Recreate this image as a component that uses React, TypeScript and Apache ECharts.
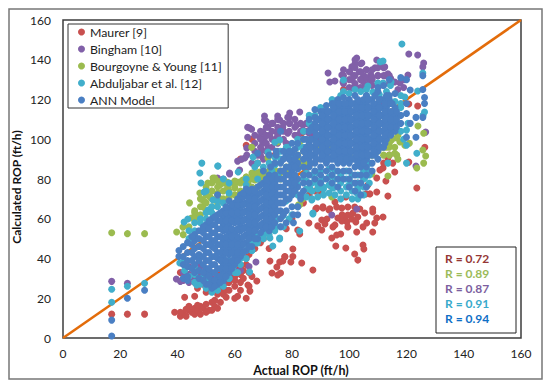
import React, { useEffect, useRef } from "react";
import * as echarts from "echarts";

const FONT = "Lato";
const xTicks = [0, 20, 40, 60, 80, 100, 120, 140, 160];
const seriesNames = ["Maurer [9]", "Bingham [10]", "Bourgoyne & Young [11]", "Abduljabar et al. [12]", "ANN Model"];
const seriesColors = ["#C8504F", "#8160A8", "#9BBB4F", "#41AECB", "#4A7FC3"];
const rLabels = ["R = 0.72", "R = 0.89", "R = 0.87", "R = 0.91", "R = 0.94"];
const rColors = ["#953735", "#9BBB59", "#7D5FA0", "#38AACB", "#0F6FC6"];
const parityLine = [[0, 0], [160, 160]];

const maurer: number[][] = [
  [17,12],[22.5,12],[28.5,12],[39,13],[41,11],[42,12.5],[43,11],[44,14],[45,13],[46,12],[46,15],[47,14],[48,12],[48,16],[49,15],[50,17],[51,14],[52,18],[53,16],[54,15],[55,18],[52,14],[50,13],[47,16.5],[44,16],[43,14.5],[41,13],
  [42.5,20.5],[50,23],[51,25],[53,26],[55,24],[56,22],[58,28],[60,26],[62,24],[64,20],[61,21],[47,25],[46,21],[47,28],[52,29],[55,29],[58,32],[60,31],[63,34],[65,33],[66,31],[65,26],[62,28],[57,24],[54,22],[53,19],[57,20.5],[60,20],
  [64.6,26.7],[67.7,28.7],[65.3,23.6],[72.3,38.7],[74.7,35.7],[73,32.7],[75,31.7],[77.5,41],[75.7,38.2],[80.3,44.8],[80.3,41],[77.5,40.8],[76.8,38.7],[79.6,38.2],[83.4,37.7],[87.3,34.2],[76,32.7],
  [85.9,57.9],[82,54.3],[82.7,52.3],[88.3,64.9],[90.8,65.4],[92.9,64.4],[95,68.4],[95.6,65.9],[97.4,65.4],[99.5,65.9],[101.9,65.9],[103.7,64.9],[105.4,62.9],[108.2,64.9],[108.2,63.4],[111.8,60.9],[109.6,60.4],[108.9,57.9],[106.1,57.9],[104.8,55.9],[102.6,53.3],[108.2,53.3],[99.5,55.9],[98.4,60.4],[96,60.4],[97.4,58.9],[99.2,58.4],[100.9,59.9],[102.3,58.4],[103,60.9],[101.3,62.9],[99.5,61.9],[97.5,62],[92.2,59.9],[90.4,59.4],[91.5,57.4],[89,56.4],[90.4,54.3],[94.3,55.9],[95,56.9],[93.9,50.3],[95.6,51.8],[97,52.3],[95.3,46.3],[98.8,45.3],[101.9,42.3],[103,39.2],[104.8,46.8],[105.1,44.8],
  [123.6,75.5],[113.5,71.4],[109.6,73.5],[107.2,72.5],[105.8,72.5],[106.5,77],[98.8,70.9],[120.8,88.5],[115.9,83.5],[115.2,88],[113.5,90.6],[111.8,85.5],[112.8,79],[110.7,84.5],[109.6,80.5],[120.8,117.7],[123.9,116.7],[126.4,96],[98,125],[66,100],[74,92],[83.4,103],[85,85.5],[93.9,76],[88.6,65.4],[90.8,66],[93.2,65],[64,97],[62,90],[68,88],[90,73],[86,72],[114,92],[112,88],
  [41,33],[46,28],[62,36],[64,40],[72,45],[70,50],[78,55],[80,60],[84,68],[88,74],
  [49,27],[50,31],[52,24],[54,26],[55,32],[57,28],[58,24],[59,33],[60,29],[61,35],[62,32],[63,30],[64,37],[65,42],[67,45],[69,48],
];

const bingham: number[][] = [
  [17,28.5],[22.5,27.5],[39.6,29.7],[41,28.5],[43,30],[45,31],[47,32],[49,33],[52.4,28],[56,33],[58,31],[60,34],[67.4,38.2],[44,36],[47,37],[55,30],[62,34],[65,36],
  [61,89],[63.5,90.6],[64.2,95.6],[64.5,106],[65.9,105],[70.4,111.7],[70.4,109.7],[75,111.7],[79.2,113.2],[82.7,113.7],[78.5,111],[75.7,109.7],[73.3,108],[71.6,106],[69.8,103.6],[68.7,101],[70.4,100.6],[72.2,102],[74.7,103.6],[76.8,106],[79.2,108],[81.6,107],[83.8,107],[86.2,107],[88.6,105.7],[69.8,98],[71.6,96],[69.4,94.6],[74.7,100.6],[78.5,103],[64.2,92],[62.4,90],[58.2,82.5],[61.7,84.5],[65.2,105.7],[64.5,101],[66,96],[68,92],[72,92],[75,94],[78,98],[82,102],[54,80.5],[58.2,83],[56,80],
  [102.6,140.9],[102,138],[100.9,136.4],[100.2,133.8],[101.5,132],[104.4,138.4],[106,135],[109,136],[111,138],[112.4,136.4],[113.5,133],[114.5,130.5],[109.6,139.9],[103.5,134],[105,132],[107.5,132.5],[110,132],[112.5,132],[92.6,133.3],[93.2,128.8],[95,129.3],[97.4,132.3],[97.8,128.8],[100.9,125.8],[103.5,125.8],[105,128.8],[107.2,128.8],[111.4,127.3],[115.9,128.8],[117.7,128.3],[120.5,132.3],[119,130],[120.8,142.9],[123.9,142.4],[126,138.4],[125.7,136.4],[126.7,103.6],[102.6,64.9],[93.9,61.9],[123.3,86.5],[103,78],[101,130],[104,130],[108,130],[98,135],[117,125],[119,126],[110,128],
  [86,103],[90,100],[92,106],[112,118],[70,90],[66,88],
];

// First number of each row is the actual ROP, the rest are calculated ROP values.
const binghamBlobs: number[][] = [
  [67,94,98,102],[69,92,96,100,104],[71,94,98,102,106,109],[73,96,100,104,108],[75,98,102,106,110],[77,100,104,108],[79,104,108,111],[81,102,106,110],[83,104,108],[85,104,108],[87,102,106],
  [98,128,132],[100,126,130,134],[102,128,132,136,140],[104,126,130,134,138],[106,127,131,135],[108,127,131,135],[110,128,132,136],[112,128,132,136],[114,128,132],
  [42,29,33],[44,28,32],[46,30,34],[48,28,32,36],[50,26,30,34],[52,26,30],[54,26,29],[56,28,32],[58,30,34],[60,34],
];

const bourgoyne: number[][] = [
  [17,53],[22.5,52.5],[28.5,52.5],[44.2,68],[48.8,69.4],[47.8,73],[50.6,78],[53,80.5],[39.7,53.3],[41.9,55.8],[44.9,60.4],[47,60.9],[54.8,77],[57.2,78.5],[59.5,78],[61.7,78.5],[64,81],[66.5,83],[68.7,83],[74,84.5],[74,81],[76.8,83.5],[78,86],
  [54.1,73],[51.3,71],[57.2,74.5],[60,75.5],[62,73],[64.6,78],[67,79.5],[69.8,78.5],[72.2,79.5],[48.8,66],[49.5,68.5],[52,74],[55,70],[58,71],[44,56],[42,52],[46,63],[50,64],
  [52.4,80.5],[57.5,76],[60.7,78.5],[62.8,79.5],[66.3,82],[68.7,83.5],[65.9,96],[71.6,90.6],[75.7,83],[75.7,80.5],[82.7,98.6],[83.4,88],[90.8,103],[92,102],[93.2,96],[82.3,67],[75,98.6],[78,84],[80,88],[82,90],[70,81],[72,84],
  [116.6,100.6],[114.8,99.6],[117.7,98.6],[115.9,96],[119.4,97],[121,98],[116.6,92],[114,98],[113,96],[117,102],[112,100],[124,106.7],[126,103],[125.7,94.6],[126.7,91.6],[126,88],[123.6,85.5],[104.8,92],[100,92],[89.7,96],[92,97],[113.5,81.5],[107.9,82.5],[93.9,71],[83.7,70],[82.7,67],[115.9,93],[117,90],[108,92],[110,94],[86,92],[96,90],
];

const bourgoyneBand: number[][] = [
  [46,60,64],[48,62,66,70],[50,64,68,72,76],[52,66,70,74,78],[54,68,72,76,79],[56,70,74,78],[58,70,74,78],[60,72,76,79],[62,74,78],[64,74,78,81],[66,76,80,83],[68,76,80,83],[70,78,82],[72,78,82],[74,80,84],[76,80,84],[80,84,86,90],[82,86,92],[84,88,94],[86,88,96],[106,88,92],[112,92,96],[114,92,96],
];

const abduljabar: number[][] = [
  [17,24.5],[22.5,26],[28.5,27.5],[17,18],[48.5,88],[47.8,83],[54.1,86.5],[48.2,78],[49.3,73.5],[52.4,69.4],[42.3,58.4],[43.6,59.9],[50.7,64.4],[50,74],[40.8,37.7],[41.9,38.2],[46.7,26.7],[42.5,34],[44,31],[50,30],[54,27],[58,30],[61,33],
  [72.3,50.3],[75.7,49.8],[73.3,46.3],[65.2,33.2],[64.6,47.8],[67.7,47.8],[59.4,35.7],[58,39],[54,30],[74,55.9],[77,56],[79,60],[75,60],[70,52],[66,44],[62,40],
  [54.1,86.5],[56,80],[61.2,83.5],[71.6,93.6],[75.7,99.6],[74,98.5],[66.4,91],[68,88],[70,86],[73,84],[75,82],[78.5,96],[79,86],[82,72],[82,77],[86.9,69.4],[87.3,62.9],[86.2,75.5],[58,78],[64,80],[67,86],[80,92],[84,96],[90,84],
  [118.4,147.9],[111.8,139.4],[110.8,139],[98,129.8],[106.5,126.8],[114.6,128.8],[108.2,123.8],[110.5,122.5],[113,124],[114.4,127],[111.8,128.3],[110,128.3],[119.4,121.3],[123.9,124.3],[125.7,133.3],[126.3,113.7],[125.8,112],[120,104.6],[120.5,108],[123.6,93],[94.2,117.2],[91.5,114.7],[89,110],[120,88],[102.6,73],[103,76],[94.3,75.5],[87.3,62.4],[82.7,53.8],[75.7,50.3],[76.8,61.4],[86,75],[91,75],[89,77],[93,77],[100,77],[105.4,80.5],[107,82],[113.5,88],[112,112],[116,119],[118,116],[104,124],[100,123],[97,122],[106,122],[120,97],[119,100],[118,104],
  [82,66],[78,69],[80,62],[84,80],[88,84],
];

const abduljabarFringe: number[][] = [
  [46,28,32,36],[48,27,30],[50,25,29],[52,23],[54,24,28],[56,26,30],[58,30],[60,33,37],[62,37,41],[64,40,44],[66,44,48],[68,48,52],[70,50,54],[72,52,56],[74,54,58],[76,56],
  [44,50,54],[46,54,58],[48,58,60],[50,60,63],[52,63,66],[54,66,69],[56,68],[58,73],[64,77],[68,80],[72,88],[74,87,91],[76,90,94],[78,92,96],[80,94],[82,96,100],[84,100,104],[86,108,112],[88,112],[90,116],[94,120],[98,124],[102,125],[106,125],[110,122],[114,118],[118,118,122],
  [85,71,75,79,83],[87,70,74,78,82],[89,71,75,79,83],[91,72,76,80],[93,73,77,81,85],[95,72,76,80,84],[97,70,74,78,82],[99,72,76,80,84],[101,70,74,78,82],[103,70,74,78,82],[105,72,76,80,84],[107,78,84,88],
];

const annLowerCols: number[][] = [
  [17,9],[17,1],[22.5,20],[28.5,24],[40.5,41,44],[42,37,41,46,30],[43.5,29,31,36,39,43,48],[46,33,37,41,45,49,52],[47.5,30,34,39,42,46,50,54],[50,27,32,35,39,43,47,51,55,57],[52,25,29,33,37,41,46,49,53,57,60],[54,27,31,35,40,43,47,51,55,59,62,72],[56,29,33,37,41,45,49,54,57,61,64],[58,33,37,42,45,49,53,57,61,65,69],[60,37,41,45,49,53,58,61,65,68],[62,41,45,49,54,57,61,65,69,72],[64,44,48,52,56,60,64,68,72,75],[66,46,52,56,60,64,68,72,75],[68,50,56,60,64,68,72,76,93],[70,55,58,62,66,70,74,78,84],[72,54,58,62,66,70,74,78,82,92],
  [45,35,39,43,47,51],[49,29,33,37,41,45,49,53,56],[51,27,31,35,39,43,47,51,55,59],[53,26,29,33,37,41,45,49,53,57,61],[55,28,31,35,39,43,47,51,55,59,63],[57,31,35,39,43,47,51,55,59,63,66],[59,35,39,43,47,51,55,59,63,67],[61,39,43,47,51,55,59,63,67,70],[63,43,47,51,55,59,63,67,71,73],[65,46,50,54,58,62,66,70,74],[67,50,54,58,62,66,70,74],[69,53,57,61,65,69,73,77],[71,56,60,64,68,72,76,80],[73,56,60,64,68,72,76,80],
];
const annUpperCols: number[][] = [
  [74,58,62,66,70,74,78,82,88],[76,56,60,64,68,72,76,80,84,88,104],[78,58,64,70,74,78,82,86,92],[80,66,72,76,80,84,88,93,98],[82,62,66,76,80,85,88,92,98],[84,74,78,82,86,90,94,100],[86,78,82,86,90,94,98,104,110],[88,80,84,88,92,96,100,104,108,115,111],[90,78,82,86,90,94,98,102,106,110,114],[92,80,84,88,92,96,100,104,108,112,117],[94,78,82,86,90,94,98,102,106,110,114,118],[96,76,80,84,88,92,96,100,104,108,112,116,120],[98,80,84,88,92,96,100,104,108,112,116,121],[100,76,80,84,88,92,96,100,104,108,112,116,120],[102,74,78,82,86,90,94,98,102,106,110,114,118,122],[104,72,78,82,86,90,94,98,102,106,110,114,118],[106,76,82,86,90,94,98,102,106,110,114,118,122],[108,84,88,92,96,100,104,108,112,116,120],[110,90,94,98,102,106,110,114,118,124,126],[112,96,100,104,108,112,116,120,127],[114,104,108,112,120,122,130],[116,104,108,112,116,123],[118,108,112,131],[120,101,113,118,130],[121.3,108,124.8],[123.3,101,111],[125.7,111,125,132],[126.3,118,121],
  [75,64,68,72,76,80],[77,62,68,72,76,80,84],[79,70,74,78,82,86,90],[81,74,78,82,86,90,95],[85,92,96,100],[87,92,96,100,106],[89,94,98,102,106,110],[91,90,94,98,102,106,110,114],[93,90,94,98,102,106,110,114],[95,90,94,98,102,106,110,114,118],[97,90,94,98,102,106,110,114,118],[99,90,94,98,102,106,110,114,118],[101,90,94,98,102,106,110,114,118],[103,88,92,96,100,104,108,112,116,120],[105,88,92,96,100,104,108,112,116,120],[107,92,96,100,104,108,112,116,120],[109,92,96,100,104,108,112,116,122],[111,96,100,104,108,112,116,120],[113,100,104,108,112,116,122],[115,104,108,112,118],
  [86.5,88,92,96,100],[88.5,90,94,98,102,106],[90.5,92,96,100,104,108,112],[92.5,90,94,98,102,106,110,114],[94.5,92,96,100,104,108,112,116],[96.5,94,98,102,106,110,114,118],[98.5,94,98,102,106,110,114,118],[100.5,94,98,102,106,110,114],[102.5,92,96,100,104,108,112,116],[104.5,92,96,100,104,108,112,116],[106.5,92,96,100,104,108,112,116,120],[108.5,94,98,102,106,110,114,118],[110.5,96,100,104,108,112,116,120],[112.5,98,102,106,110,114,118],[114.5,102,106,110,114,118],[116.5,106,110,114],
  [80.5,58,62],[83,70,72],[79,94],[77,90,94],[74.5,92,94],[72.5,86],
];

function expand(cols: number[][]): number[][] {
  const out: number[][] = [];
  cols.forEach((c) => c.slice(1).forEach((y) => out.push([c[0], y])));
  return out;
}

const scatter = (i: number, data: number[][]) => ({
  type: "scatter",
  name: seriesNames[i],
  data,
  symbol: "circle",
  symbolSize: 7,
  itemStyle: { color: seriesColors[i], opacity: 1 },
  z: 3 + i,
});

export default function App() {
  const ref = useRef<HTMLDivElement>(null);
  useEffect(() => {
    const chart = echarts.init(ref.current!, undefined, { renderer: "svg" });
    const axisCommon = {
      type: "value",
      min: 0,
      max: 160,
      interval: 20,
      axisLine: { show: false },
      axisTick: { show: false },
      splitLine: { show: false },
      nameLocation: "middle",
      axisLabel: { fontFamily: FONT, fontSize: 12, color: "#222", margin: 12, customValues: xTicks },
    };
    chart.setOption({
      animation: false,
      backgroundColor: "#fff",
      grid: { left: 63, top: 20, width: 458, height: 318, show: true, borderColor: "#3c3c3c", borderWidth: 1.5, backgroundColor: "#fff", z: 1 },
      xAxis: {
        ...axisCommon,
        axisLabel: { ...axisCommon.axisLabel, margin: 9 },
        name: "Actual ROP (ft/h)",
        nameGap: 25,
        nameTextStyle: { fontFamily: FONT, fontSize: 12.5, fontWeight: "bold", color: "#111", padding: [0, 0, 0, 18] },
      },
      yAxis: {
        ...axisCommon,
        name: "Calculated ROP (ft/h)",
        nameMoveOverlap: false,
        nameGap: 41,
        nameTextStyle: { fontFamily: FONT, fontSize: 12, fontWeight: "bold", color: "#111", padding: [0, 16, 0, 0] },
      },
      legend: {
        show: true,
        orient: "vertical",
        left: 68,
        top: 24,
        padding: [1, 6, 1, 10],
        itemWidth: 7,
        itemHeight: 7,
        itemGap: 3,
        icon: "circle",
        data: seriesNames,
        backgroundColor: "#fff",
        borderColor: "#333",
        borderWidth: 1,
        textStyle: { fontFamily: FONT, fontSize: 12.3, color: "#222", lineHeight: 14 },
        z: 20,
      },
      series: [
        { type: "line", data: parityLine, showSymbol: false, lineStyle: { color: "#E36C0A", width: 2.5 }, z: 2, silent: true },
        scatter(0, maurer),
        scatter(1, [...bingham, ...expand(binghamBlobs)]),
        scatter(2, [...bourgoyne, ...expand(bourgoyneBand)]),
        scatter(3, [...abduljabar, ...expand(abduljabarFringe)]),
        scatter(4, [...expand(annLowerCols), ...expand(annUpperCols)]),
      ],
      graphic: [
        { type: "rect", silent: true, z: -10, shape: { x: 9, y: 9, width: 533, height: 370 }, style: { fill: "none", stroke: "#777", lineWidth: 1.5 } },
        { type: "rect", silent: true, z: 30, shape: { x: 436, y: 247, width: 80, height: 86 }, style: { fill: "#fff", stroke: "#222", lineWidth: 1 } },
        ...rLabels.map((t, i) => ({
          type: "text",
          silent: true,
          z: 31,
          x: 445,
          y: 252 + i * 15.2,
          style: { text: t, fill: rColors[i], font: `bold 12px ${FONT}` },
        })),
      ],
    });
    return () => chart.dispose();
  }, []);
  return <div ref={ref} style={{ position: "absolute", left: 0, top: 0, width: 550, height: 387 }} />;
}
